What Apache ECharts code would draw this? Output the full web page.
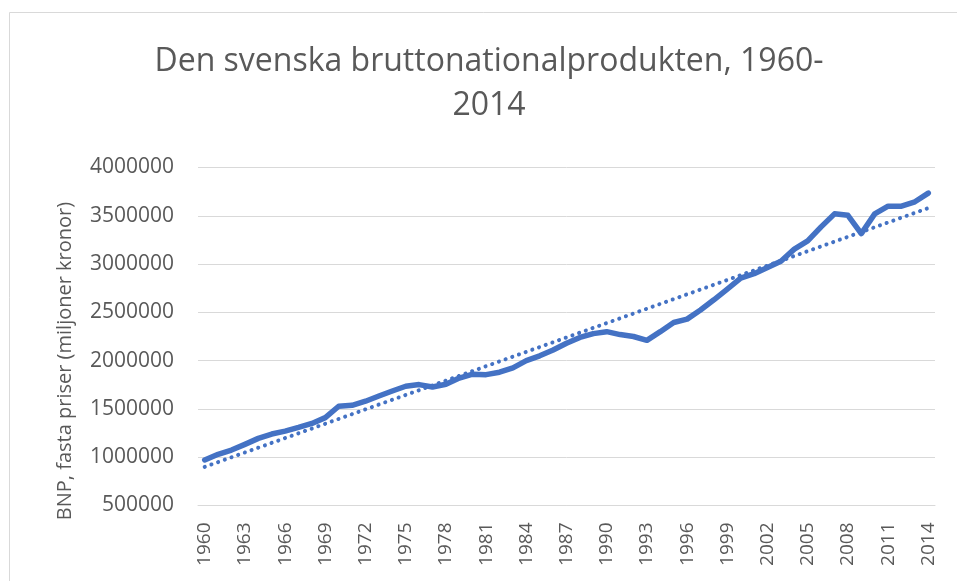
<!DOCTYPE html>
<html>
<head>
<meta charset="utf-8">
<script src="https://cdn.jsdelivr.net/npm/echarts@6/dist/echarts.min.js"></script>
<style>
    html, body { margin: 0; padding: 0; background: #fff; }
    #chart { width: 957px; height: 581px; }
</style>
</head>
<body>
<div id="chart"></div>
<script>
// år 1960-2014
const years = [];
for (let y = 1960; y <= 2014; y++) {
    years.push(String(y));
}

// BNP, fasta priser (miljoner kronor)
const bnp = [
    971000, 1030000, 1074000, 1133000, 1195000, 1240000, 1270000, 1308000, 1350000, 1410000,
    1528000, 1538000, 1580000, 1634000, 1686000, 1735000, 1752000, 1727000, 1755000, 1820000,
    1860000, 1855000, 1880000, 1925000, 2000000, 2050000, 2110000, 2180000, 2240000, 2280000,
    2300000, 2270000, 2250000, 2210000, 2300000, 2395000, 2430000, 2525000, 2630000, 2740000,
    2855000, 2900000, 2965000, 3030000, 3155000, 3240000, 3385000, 3520000, 3505000, 3315000,
    3520000, 3600000, 3600000, 3645000, 3735000
];

// linjär trendlinje, start- och slutvärde
const trendYears = ['1960', '2014'];
const trendValues = [900000, 3580000];

const chart = echarts.init(document.getElementById('chart'));

const option = {
    animation: false,
    backgroundColor: '#ffffff',
    title: {
        text: 'Den svenska bruttonationalprodukten, 1960-\n2014',
        left: 489,
        top: 40,
        padding: 0,
        textAlign: 'center',
        textStyle: {
            color: '#595959',
            fontFamily: 'Open Sans',
            fontWeight: 'normal',
            fontSize: 32,
            lineHeight: 44,
        },
    },
    graphic: [
        {
            type: 'rect',
            shape: { x: 9.5, y: 12.5, width: 960, height: 600 },
            style: { fill: 'none', stroke: '#d9d9d9', lineWidth: 1 },
            silent: true,
        },
        {
            type: 'text',
            x: 65,
            y: 361,
            rotation: Math.PI / 2,
            style: {
                text: 'BNP, fasta priser (miljoner kronor)',
                fill: '#595959',
                font: '20px "Open Sans"',
                align: 'center',
                verticalAlign: 'middle',
            },
        },
    ],
    grid: {
        left: 198,
        right: 22,
        top: 167.5,
        bottom: 75.5,
    },
    xAxis: {
        type: 'category',
        data: years,
        boundaryGap: true,
        axisLine: { show: true, lineStyle: { color: '#d9d9d9', width: 1 } },
        axisTick: { show: false },
        axisLabel: {
            interval: 2,
            rotate: 90,
            margin: 17,
            color: '#595959',
            fontFamily: 'Open Sans',
            fontSize: 19,
        },
    },
    yAxis: {
        type: 'value',
        min: 500000,
        max: 4000000,
        interval: 500000,
        axisLine: { show: false },
        axisTick: { show: false },
        splitLine: { lineStyle: { color: '#d9d9d9', width: 1 } },
        axisLabel: {
            margin: 24,
            color: '#595959',
            fontFamily: 'Open Sans',
            fontSize: 21,
            formatter: (v) => String(v),
        },
    },
    series: [
        {
            name: 'BNP',
            type: 'line',
            data: bnp,
            symbol: 'none',
            lineStyle: { color: '#4472c4', width: 5.5, cap: 'round', join: 'round' },
        },
        {
            name: 'Linjär (BNP)',
            type: 'line',
            data: trendYears.map((y, i) => [y, trendValues[i]]),
            symbol: 'none',
            lineStyle: { color: '#4472c4', width: 4, type: [0.1, 7], cap: 'round' },
        },
    ],
};

chart.setOption(option);
</script>
</body>
</html>
